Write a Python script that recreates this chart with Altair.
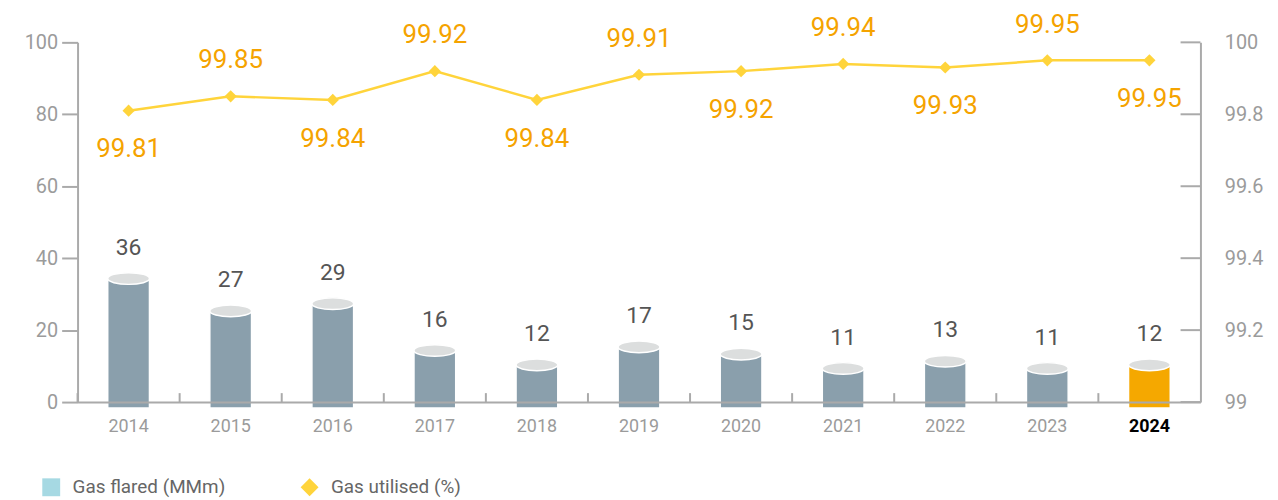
import altair as alt
import pandas as pd

YEARS = ["2014", "2015", "2016", "2017", "2018", "2019", "2020", "2021", "2022", "2023", "2024"]
FLARED = [36, 27, 29, 16, 12, 17, 15, 11, 13, 11, 12]
UTILISED = [99.81, 99.85, 99.84, 99.92, 99.84, 99.91, 99.92, 99.94, 99.93, 99.95, 99.95]
LABEL_SIDE = ["below", "above", "below", "above", "below", "above",
              "below", "above", "below", "above", "below"]
LEFT_TICKS = [0, 20, 40, 60, 80, 100]
RIGHT_TICKS = [99, 99.2, 99.4, 99.6, 99.8, 100]
LEGEND_LABELS = ["Gas flared (MMm)", "Gas utilised (%)"]

W, H = 1130, 362
NUM_FONT = "Roboto"
AXIS_GRAY = "#aaaaaa"
LABEL_GRAY = "#9b9b9b"

df = pd.DataFrame({"year": YEARS, "flared": FLARED, "utilised": UTILISED, "side": LABEL_SIDE})
rt = pd.DataFrame({"tick": RIGHT_TICKS})
lg = pd.DataFrame({"series": LEGEND_LABELS})

x_axis = alt.Axis(
    title=None, labelAngle=0, ticks=False, domainColor=AXIS_GRAY, domainWidth=2,
    labelFont="Roboto", labelFontSize=18, labelPadding=16, zindex=1,
    labelColor={"condition": {"test": "datum.value == '2024'", "value": "#000000"}, "value": LABEL_GRAY},
    labelFontWeight={"condition": {"test": "datum.value == '2024'", "value": "bold"}, "value": "normal"},
)
x_enc = alt.X("year:N", sort=YEARS, scale=alt.Scale(paddingInner=0, paddingOuter=0), axis=x_axis)

left_axis = alt.Axis(
    values=LEFT_TICKS, title=None, tickSize=16, tickColor=AXIS_GRAY, tickWidth=2,
    domainColor=AXIS_GRAY, domainWidth=2, labelFontSize=20, labelColor=LABEL_GRAY,
    labelPadding=4, labelFont="Roboto", grid=False, zindex=1,
)
y_left = alt.Y("flared:Q", scale=alt.Scale(domain=[0, 100]), axis=left_axis)

right_axis = alt.Axis(
    orient="right", values=RIGHT_TICKS, format=".1~f", ticks=False, title=None,
    domainColor=AXIS_GRAY, domainWidth=2, labelFontSize=20, labelColor=LABEL_GRAY,
    labelPadding=24, labelFont="Roboto", grid=False, zindex=1,
)
right_scale = alt.Scale(domain=[99, 100])

bar_color = alt.condition("datum.year == '2024'", alt.value("#F5A800"), alt.value("#8A9FAC"))

bars = alt.Chart(df).mark_bar(size=42, yOffset=6, stroke="white", strokeWidth=1.5).encode(
    x=x_enc, y=y_left, color=bar_color
)
ELLIPSE = "M -1 0 A 1 0.28 0 1 1 1 0 A 1 0.28 0 1 1 -1 0 Z"
caps = alt.Chart(df).mark_point(
    shape=ELLIPSE, size=42 * 42, filled=True, fill="#DCDEDE", stroke="white",
    strokeWidth=1.5, opacity=1, yOffset=6
).encode(x=x_enc, y=y_left)
bar_labels = alt.Chart(df).mark_text(
    font=NUM_FONT, fontSize=23, color="#555555", dy=-25, baseline="middle"
).encode(x=x_enc, y=y_left, text=alt.Text("flared:Q"))
x_ticks = alt.Chart(df).mark_rule(color=AXIS_GRAY, strokeWidth=2).encode(
    x=alt.X("year:N", sort=YEARS, bandPosition=0, scale=alt.Scale(paddingInner=0, paddingOuter=0), axis=x_axis),
    y=alt.value(H - 9), y2=alt.value(H),
)
left_group = alt.layer(bars, caps, bar_labels, x_ticks)

y_right = alt.Y("utilised:Q", scale=right_scale, axis=right_axis)
line = alt.Chart(df).mark_line(color="#FFD43B", strokeWidth=2.5).encode(x=x_enc, y=y_right)
pts = alt.Chart(df).mark_point(shape="diamond", filled=True, size=150, color="#FFD43B", opacity=1).encode(
    x=x_enc, y=y_right
)
lab_above = alt.Chart(df).transform_filter("datum.side == 'above'").mark_text(
    font=NUM_FONT, fontSize=26, color="#F5A300", dy=-36, baseline="middle"
).encode(x=x_enc, y=y_right, text=alt.Text("utilised:Q", format=".2f"))
lab_below = alt.Chart(df).transform_filter("datum.side == 'below'").mark_text(
    font=NUM_FONT, fontSize=26, color="#F5A300", dy=39, baseline="middle"
).encode(x=x_enc, y=y_right, text=alt.Text("utilised:Q", format=".2f"))
r_ticks = alt.Chart(rt).mark_rule(color=AXIS_GRAY, strokeWidth=2).encode(
    y=alt.Y("tick:Q", scale=right_scale, axis=right_axis),
    x=alt.value(W - 20), x2=alt.value(W),
)
right_group = alt.layer(r_ticks, line, pts, lab_above, lab_below)

leg = alt.Legend(
    title=None, orient="none", legendX=-36, legendY=438, direction="horizontal",
    symbolSize=324, symbolOpacity=1, symbolStrokeWidth=0, labelFont="Roboto",
    labelFontSize=19, labelColor="#666666", columnPadding=75, labelOffset=12,
    labelLimit=400,
)
legend_layer = alt.Chart(lg).mark_point(filled=True, opacity=0).encode(
    color=alt.Color("series:N", scale=alt.Scale(domain=LEGEND_LABELS, range=["#A6D9E3", "#FFD43B"]), legend=leg),
    shape=alt.Shape("series:N", scale=alt.Scale(domain=LEGEND_LABELS, range=["square", "diamond"]), legend=leg),
)

chart = alt.layer(left_group, right_group, legend_layer).resolve_scale(
    y="independent"
).properties(
    width=W, height=H,
    padding={"left": 70, "top": 33, "right": 70, "bottom": 100},
    autosize=alt.AutoSizeParams(type="none"),
).configure_view(stroke=None)

chart.save("out.html", embed_options={"renderer": "svg", "actions": False})
